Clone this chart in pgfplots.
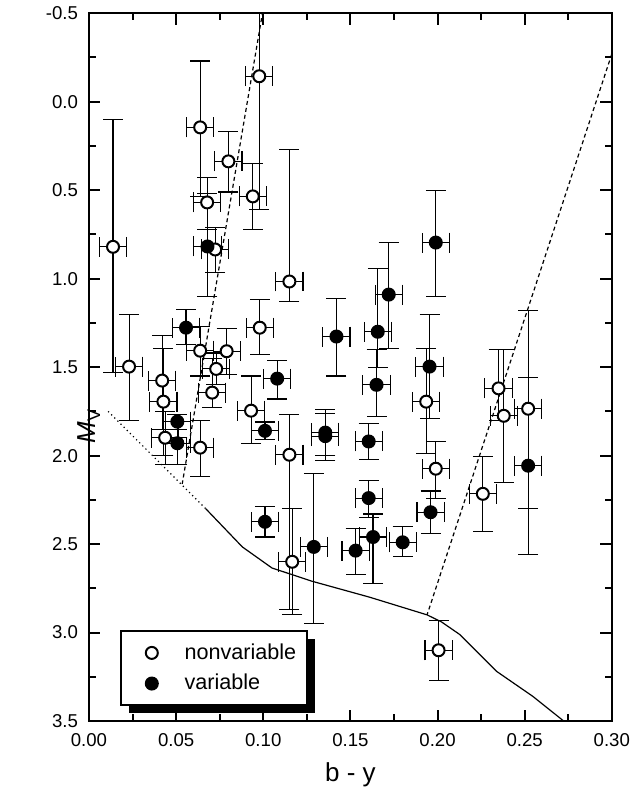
\documentclass[border=0pt]{standalone}
\usepackage{fontspec}
\setmainfont{Liberation Sans}
\usepackage{pgfplots}
\usepackage{pgfplotstable}
\pgfplotsset{compat=1.18}
\usetikzlibrary{shadows}

% x y top bottom (top = smaller M_V)
\pgfplotstableread{
x y t b
0.0138 0.820 0.10 1.53
0.0638 0.145 -0.23 0.535
0.0977 -0.144 -0.8 0.61
0.0800 0.337 0.17 0.51
0.0940 0.535 0.35 0.72
0.0678 0.569 0.43 0.72
0.0724 0.835 0.71 0.965
0.1150 1.016 0.27 1.13
0.0230 1.497 1.20 1.80
0.0420 1.576 1.32 1.85
0.0427 1.695 1.395 2.00
0.0437 1.899 1.75 2.05
0.0638 1.955 1.80 2.12
0.0638 1.407 1.27 1.55
0.0790 1.410 1.28 1.54
0.0730 1.510 1.42 1.60
0.0707 1.644 1.45 1.73
0.0980 1.277 1.12 1.43
0.0930 1.746 1.55 1.93
0.1150 1.995 1.77 2.87
0.1166 2.600 2.30 2.90
0.1935 1.695 1.395 1.99
0.1990 2.074 1.92 2.24
0.2350 1.620 1.40 1.80
0.2380 1.775 1.40 2.15
0.2520 1.735 1.18 2.56
0.2260 2.216 2.006 2.43
0.2006 3.100 2.93 3.27
}\nonvar

\pgfplotstableread{
x y t b
0.0680 0.818 0.52 1.10
0.0557 1.277 1.175 1.37
0.0507 1.808 1.77 1.90
0.0507 1.930 1.85 2.05
0.1010 1.860 1.81 1.91
0.1080 1.565 1.46 1.68
0.1420 1.327 1.11 1.55
0.1356 1.870 1.74 2.03
0.1356 1.890 1.76 2.00
0.1010 2.374 2.29 2.46
0.1290 2.516 2.10 2.95
0.1530 2.537 2.41 2.67
0.1605 1.920 1.82 2.02
0.1605 2.240 2.14 2.35
0.1630 2.460 2.33 2.725
0.1800 2.490 2.40 2.57
0.1960 2.320 2.20 2.44
0.1954 1.497 1.20 1.79
0.1990 0.796 0.50 1.10
0.1720 1.090 0.795 1.395
0.1657 1.300 0.94 1.50
0.1650 1.600 1.40 1.78
0.2520 2.057 1.56 2.30
}\var

\begin{document}
\begin{tikzpicture}
% fixes the page size: axis box at (0,0)-(261.5pt,354pt)
\path (-44.5pt,-39.5pt) rectangle (272.5pt,360.5pt);
\begin{axis}[
  at={(0,0)}, anchor=south west,
  scale only axis,
  width=261.5pt, height=354pt,
  xmin=0, xmax=0.30,
  ymin=-0.5, ymax=3.5,
  y dir=reverse,
  axis line style={line width=1.2pt},
  tick style={black, line width=1pt},
  tick align=inside,
  major tick length=0.2cm,
  minor tick length=0.12cm,
  xtick={0,0.05,0.10,0.15,0.20,0.25,0.30},
  xticklabels={0.00,0.05,0.10,0.15,0.20,0.25,0.30},
  ytick={-0.5,0,0.5,1,1.5,2,2.5,3,3.5},
  yticklabels={-0.5,0.0,0.5,1.0,1.5,2.0,2.5,3.0,3.5},
  tick label style={font=\fontsize{9.3}{11}\selectfont},
  xticklabel style={yshift=-2.5pt},
  yticklabel style={xshift=-2pt},
  xlabel={b - y},
  ylabel={\textit{M}\textsubscript{V}},
  label style={font=\fontsize{13}{15}\selectfont},
  xlabel style={at={(axis description cs:0.5,0)}, anchor=center, yshift=-27pt},
  ylabel style={at={(axis description cs:0,0.5)}, anchor=center, xshift=-29.5pt},
  legend style={at={(0.059,0.1285)}, anchor=north west, draw=black,
    line width=1pt, fill=white, font=\fontsize{10.8}{13}\selectfont,
    inner xsep=3.5pt, inner ysep=4.25pt, column sep=10.4pt, row sep=2pt,
    drop shadow={shadow xshift=4pt, shadow yshift=-4pt, opacity=1, fill=black}},
  legend cell align=left,
  legend image code/.code={
    \path (-11.5pt,0pt) (3.5pt,0pt);
    \draw[#1] plot coordinates {(0pt,0pt)};},
]
% isochrone-type curve: dotted and solid parts
\addplot[forget plot, black, line width=0.6pt, dash pattern=on 0.6pt off 1.6pt]
  coordinates {(0.011,1.75) (0.067,2.30)};
\addplot[forget plot, black, line width=0.6pt]
  coordinates {(0.067,2.30) (0.088,2.516) (0.105,2.635) (0.128,2.71) (0.161,2.80)
    (0.194,2.90) (0.2023,2.94) (0.2126,3.01) (0.234,3.22) (0.2546,3.36) (0.2724,3.5) (0.275,3.52)};
% dashed boundaries
\addplot[forget plot, black, line width=0.6pt, dash pattern=on 2pt off 1.5pt]
  coordinates {(0.1004,-0.55) (0.0535,2.16)};
\addplot[forget plot, black, line width=0.6pt, dash pattern=on 2pt off 1.5pt]
  coordinates {(0.300,-0.27) (0.194,2.90)};

% nonvariable
\addplot[forget plot, only marks, mark=*, mark size=3pt,
  mark options={fill=white, draw=black, line width=1pt},
  error bars/.cd, x dir=both, x fixed=0.0078, y dir=both, y explicit,
  error bar style={line width=0.55pt, black},
  error mark options={rotate=90, line width=0.55pt, mark size=5pt, black}]
  table[x=x, y=y, y error plus expr=\thisrow{b}-\thisrow{y},
        y error minus expr=\thisrow{y}-\thisrow{t}] {\nonvar};
% variable
\addplot[forget plot, only marks, mark=*, mark size=3pt,
  mark options={fill=black, draw=black, line width=1pt},
  error bars/.cd, x dir=both, x fixed=0.0078, y dir=both, y explicit,
  error bar style={line width=0.55pt, black},
  error mark options={rotate=90, line width=0.55pt, mark size=5pt, black}]
  table[x=x, y=y, y error plus expr=\thisrow{b}-\thisrow{y},
        y error minus expr=\thisrow{y}-\thisrow{t}] {\var};

\addlegendimage{only marks, mark=*, mark size=3pt, mark options={fill=white, draw=black, line width=1pt}}
\addlegendentry{nonvariable}
\addlegendimage{only marks, mark=*, mark size=3pt, mark options={fill=black, draw=black, line width=1pt}}
\addlegendentry{variable}
\end{axis}
% inward ticks on all four sides of the axis box
\foreach \i in {0,...,6} {
  \draw[line width=1pt] (\i*43.5833pt,0pt) -- ++(0pt,5.5pt);
  \draw[line width=1pt] (\i*43.5833pt,354pt) -- ++(0pt,-5.5pt);}
\foreach \i in {0,...,5} {
  \draw[line width=1pt] (\i*43.5833pt+21.7917pt,0pt) -- ++(0pt,3.5pt);
  \draw[line width=1pt] (\i*43.5833pt+21.7917pt,354pt) -- ++(0pt,-3.5pt);}
\foreach \j in {0,...,8} {
  \draw[line width=1pt] (0pt,\j*44.25pt) -- ++(5.5pt,0pt);
  \draw[line width=1pt] (261.5pt,\j*44.25pt) -- ++(-5.5pt,0pt);}
\foreach \j in {0,...,7} {
  \draw[line width=1pt] (0pt,\j*44.25pt+22.125pt) -- ++(3.5pt,0pt);
  \draw[line width=1pt] (261.5pt,\j*44.25pt+22.125pt) -- ++(-3.5pt,0pt);}
\end{tikzpicture}
\end{document}
